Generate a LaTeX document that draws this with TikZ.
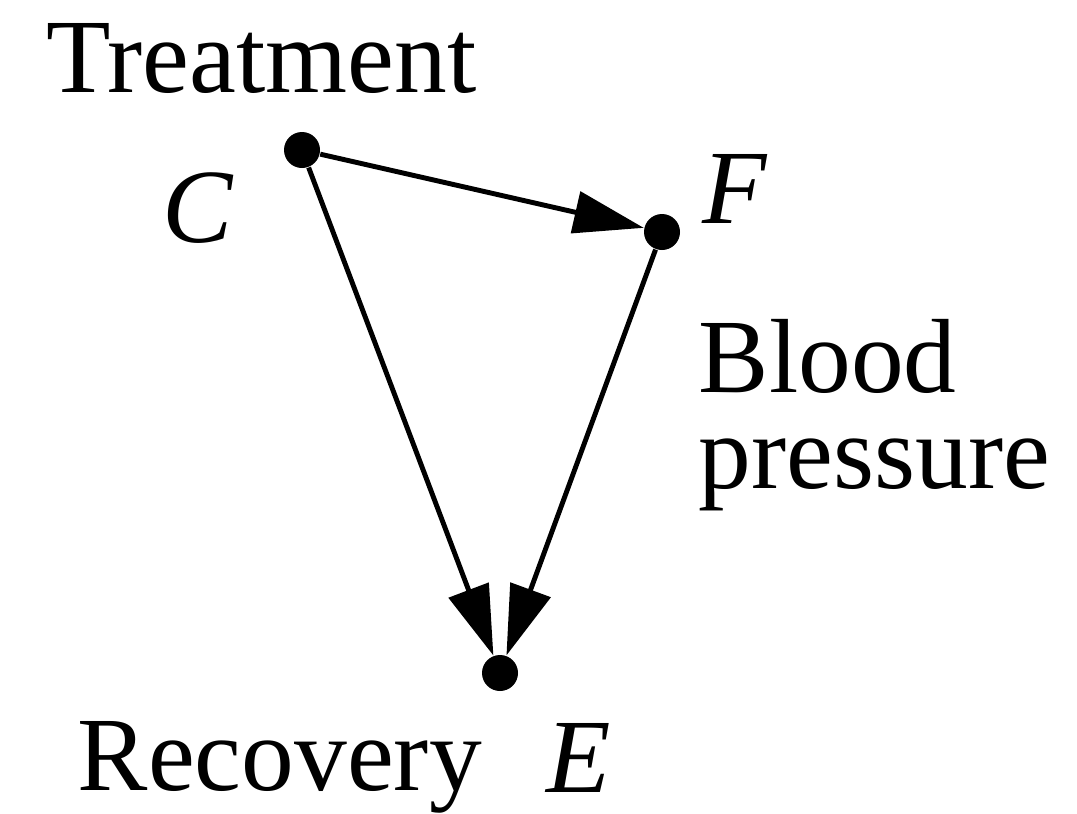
\documentclass[tikz,border=0pt]{standalone}
\usepackage{fontspec}
\setmainfont{Liberation Serif}
\usetikzlibrary{arrows.meta}
\tikzset{
  dot/.style={circle, fill=black, inner sep=0pt, minimum size=0.36cm},
  lbl/.style={inner sep=0pt, font=\fontsize{30}{27.3}\selectfont},
  edge/.style={line width=1.4pt, -{Triangle[length=0.70cm, width=0.42cm]}}
}
\begin{document}
\begin{tikzpicture}
\useasboundingbox[fill=white] (0,0) rectangle (10.77,8.13);
\node[dot] (C) at (3.02,6.63) {};
\node[dot] (F) at (6.62,5.81) {};
\node[dot] (E) at (5.00,1.40) {};
\node[lbl, anchor=base west] (treat) at (0.46,7.21) {Treatment};
\node[lbl, anchor=base west] (clab) at (1.62,5.71) {\itshape C};
\node[lbl, anchor=base west] (flab) at (7.02,5.90) {\itshape F};
\node[lbl, anchor=base west, align=left] (blood) at (6.98,3.25) {Blood\\pressure};
\node[lbl, anchor=base west] (recov) at (0.77,0.23) {Recovery};
\node[lbl, anchor=base west] (elab) at (5.46,0.21) {\itshape E};
\draw[edge] (C) -- (F);
\draw[edge] (C) -- (E);
\draw[edge] (F) -- (E);
\end{tikzpicture}
\end{document}
